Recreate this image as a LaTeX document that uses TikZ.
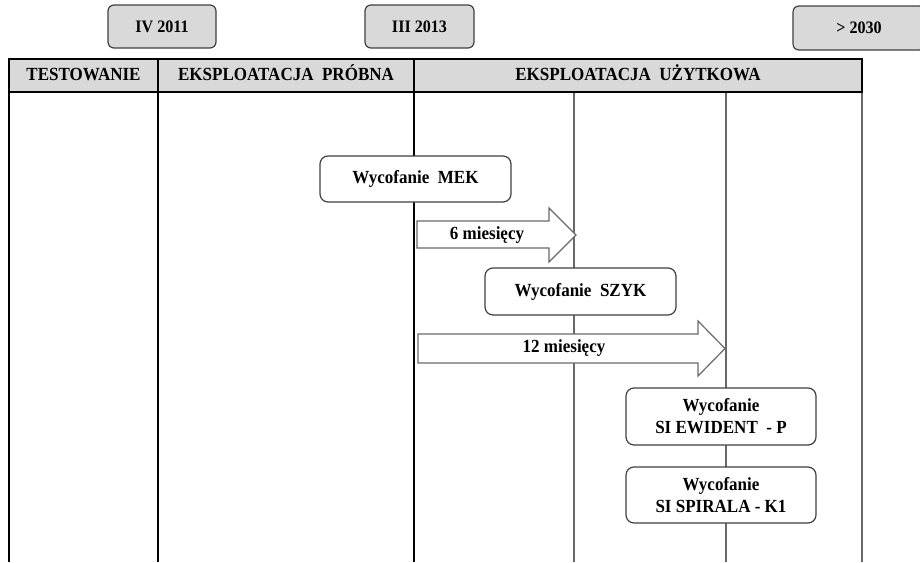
\documentclass[tikz,border=0pt]{standalone}
\usepackage{fontspec}
\setmainfont[FakeStretch=0.92]{Liberation Serif}
\usepackage{tikz}
\usetikzlibrary{positioning}
\definecolor{szary}{RGB}{217,217,217}
\definecolor{ramka}{RGB}{64,64,64}
\definecolor{linia}{RGB}{105,105,105}
\tikzset{
	data/.style={draw=ramka,fill=szary,rounded corners=6pt,inner sep=0pt,line width=1.2pt,font=\bfseries\fontsize{17.5}{19}\selectfont},
	naglowek/.style={draw=black,fill=szary,inner sep=0pt,outer sep=0pt,line width=1.2pt,minimum height=33pt,text height=12.5pt,text depth=3pt,font=\bfseries\fontsize{18.5}{20}\selectfont},
	wycof/.style={draw=ramka,fill=white,rounded corners=8pt,inner sep=0pt,line width=1.2pt,align=center,font=\bfseries\fontsize{18.5}{22}\selectfont},
	strzalka/.style={draw=linia,fill=white,line width=1.2pt},
	opis/.style={font=\bfseries\fontsize{18.5}{20}\selectfont},
}
\begin{document}
\begin{tikzpicture}[x=1pt,y=-1pt]
	\useasboundingbox (0,0) rectangle (920,562);
	% daty
	\node[data,minimum width=108pt,minimum height=43pt] (data2011) at (162,26.5) {IV 2011};
	\node[data,minimum width=109pt,minimum height=43pt] (data2013) at (419.5,26.5) {III 2013};
	\node[data,minimum width=132pt,minimum height=44pt] (data2030) at (859,28) {> 2030};
	% linie czasu
	\draw[black,line width=1.2pt] (9,92) -- (9,562);
	\draw[black,line width=1.2pt] (158,92) -- (158,562);
	\draw[black,line width=1.2pt] (414,92) -- (414,562);
	\foreach \x in {574,726,862}
		\draw[linia,line width=1.2pt] (\x,92) -- (\x,562);
	% naglowki
	\node[naglowek,minimum width=149pt] (kolTest) at (83.5,75.5) {TESTOWANIE};
	\node[naglowek,minimum width=256pt,right=0pt of kolTest] (kolProbna) {EKSPLOATACJA\ \ PRÓBNA};
	\node[naglowek,minimum width=448pt,right=0pt of kolProbna] (kolUzytkowa) {EKSPLOATACJA\ \ UŻYTKOWA};
	% wycofania
	\node[wycof,minimum width=191pt,minimum height=46pt] (wycMEK) at (415.5,179) {Wycofanie\ \ MEK};
	\node[wycof,minimum width=191pt,minimum height=47pt] (wycSZYK) at (580.5,291.5) {Wycofanie\ \ SZYK};
	\node[wycof,minimum width=190pt,minimum height=57pt] (wycEWI) at (721,416.5) {Wycofanie\\SI EWIDENT\ \ - P};
	\node[wycof,minimum width=190pt,minimum height=56pt] (wycSPI) at (721,495) {Wycofanie\\SI SPIRALA - K1};
	% strzalki
	\draw[strzalka] (417,221) -- (549,221) -- (549,208) -- (576,235) -- (549,262) -- (549,248) -- (417,248) -- cycle;
	\node[opis] (strz6) at (487,235) {6 miesięcy};
	\draw[strzalka] (418,334) -- (698,334) -- (698,321) -- (725,348.5) -- (698,376) -- (698,363) -- (418,363) -- cycle;
	\node[opis] (strz12) at (564,348.5) {12 miesięcy};
\end{tikzpicture}
\end{document}
